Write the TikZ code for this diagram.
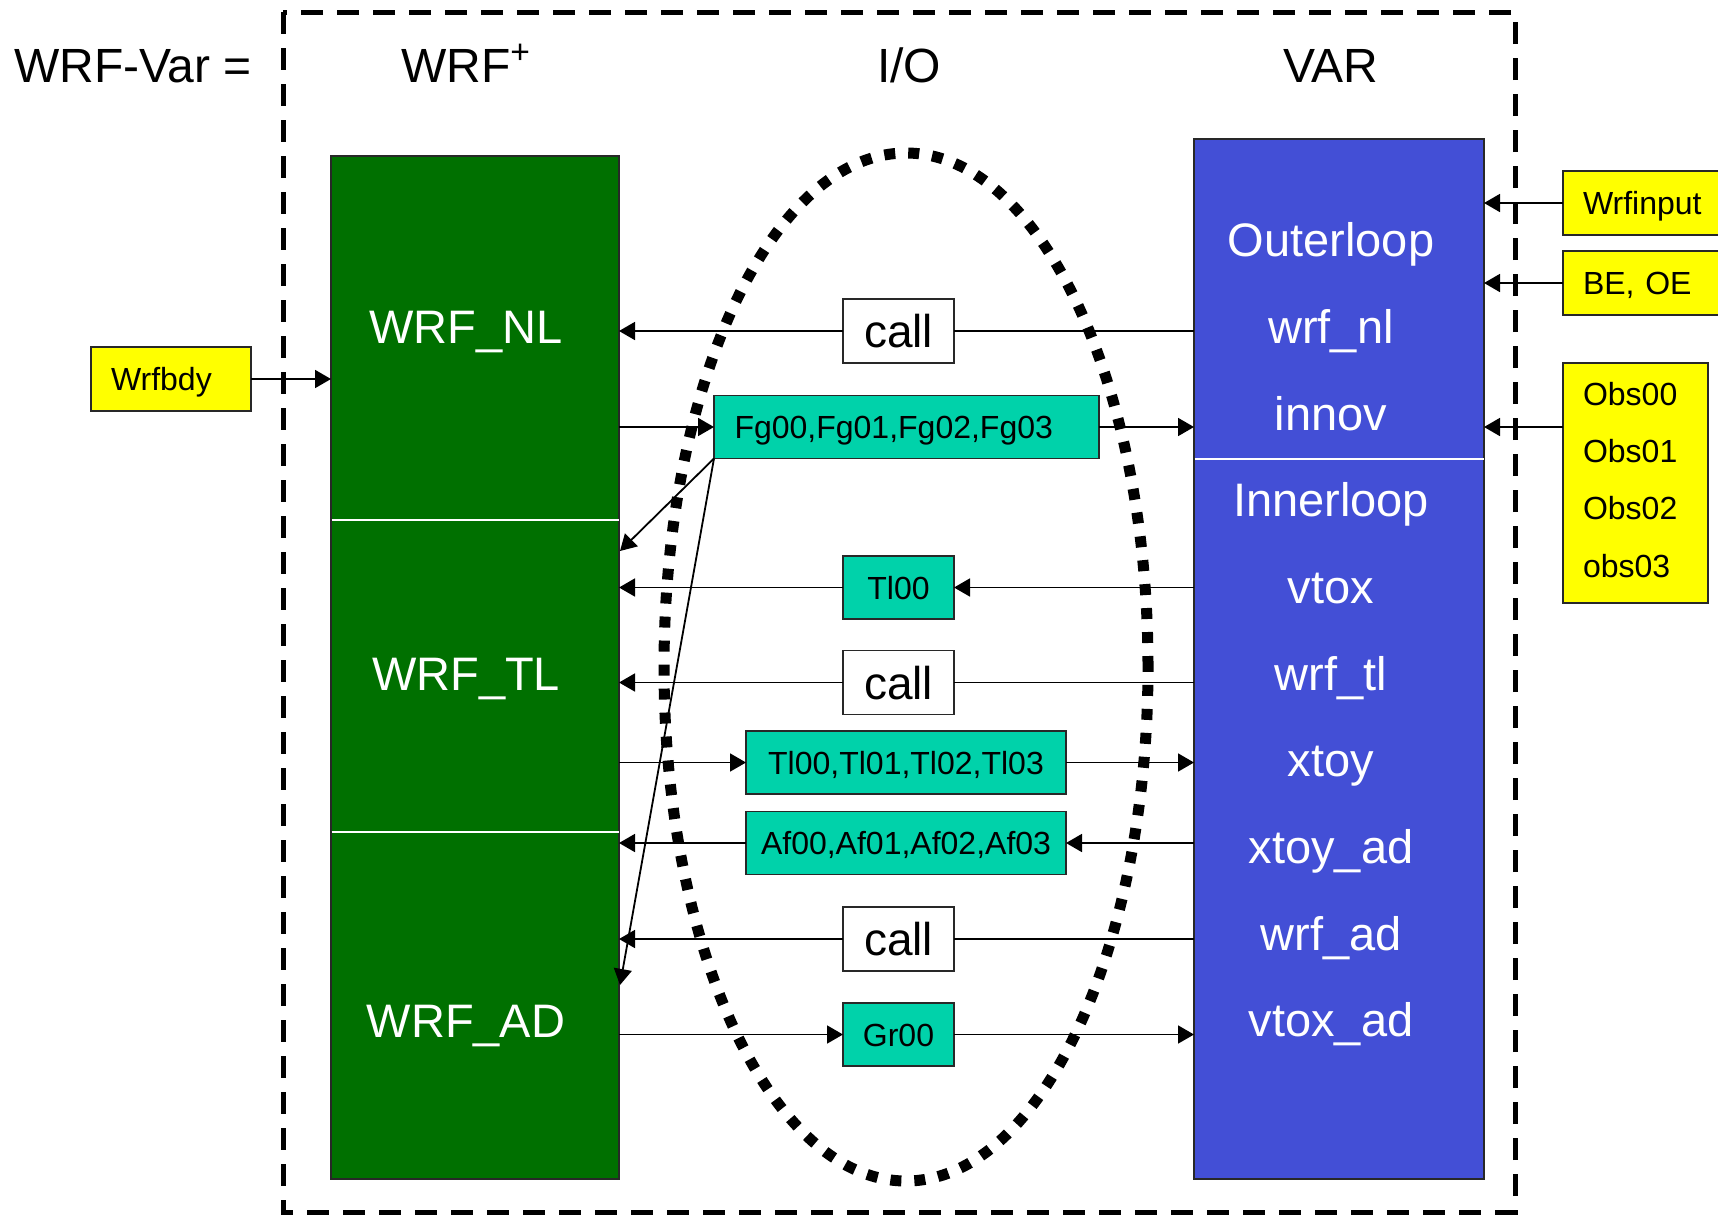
\documentclass[tikz,border=0pt]{standalone}
\usepackage{fontspec}
\setmainfont{Liberation Sans}
\usetikzlibrary{arrows.meta}
\definecolor{wgreen}{RGB}{0,112,0}
\definecolor{wblue}{RGB}{67,79,214}
\definecolor{wteal}{RGB}{0,210,170}
\definecolor{wyellow}{RGB}{255,255,0}
\definecolor{edgegray}{RGB}{40,40,40}
\begin{document}
\begin{tikzpicture}[x=0.5pt,y=-0.5pt,
  every node/.style={inner sep=0pt, outer sep=0pt},
  conn/.style={line width=0.9pt, -{Triangle[length=8pt,width=9pt]}},
  plainline/.style={line width=0.9pt},
  block/.style={draw=edgegray, line width=0.8pt},
  iobox/.style={draw=edgegray, line width=0.8pt, fill=wteal, minimum height=31.5pt,
    font=\fontsize{16}{18}\selectfont, text height=11.5pt, text depth=0pt},
  callbox/.style={draw=edgegray, line width=0.8pt, fill=white, minimum width=55.5pt,
    minimum height=32pt, font=\fontsize{23}{26}\selectfont, text height=16.5pt, text depth=0pt},
  ybox/.style={draw=edgegray, line width=0.8pt, fill=wyellow, inner xsep=10pt,
    minimum height=32pt, align=left, font=\fontsize{16}{18}\selectfont,
    text height=11.5pt, text depth=0pt},
  ytext/.style={font=\fontsize{16}{18}\selectfont, anchor=base west},
  lab/.style={text=white, font=\fontsize{23.5}{28}\selectfont, anchor=base},
  title/.style={font=\fontsize{24}{28}\selectfont, anchor=base},
  frame/.style={line width=2.5pt, dash pattern=on 11pt off 7pt},
  dots/.style={line width=5.5pt, dash pattern=on 5.5pt off 6.5pt}
]
\useasboundingbox (0,0) rectangle (1718,1216);
\clip (0,0) rectangle (1718,1216);
\fill[white] (0,0) rectangle (1718,1216);

% outer dashed frame
\draw[frame] (283,12) rectangle (1515,1212);

% titles
\node[title] (wrfvar) at (133,82) {WRF-Var =};
\node[title] (wrfplus) at (466,82) {WRF\textsuperscript{+}};
\node[title] (io) at (909,82) {I/O};
\node[title] (var) at (1331,82) {VAR};

% main blocks
\node[block, fill=wgreen, minimum width=144pt, minimum height=511.5pt] (green) at (475,667.5) {};
\draw[white, line width=0.8pt] (331.5,520) -- (618.5,520);
\draw[white, line width=0.8pt] (331.5,832) -- (618.5,832);
\node[block, fill=wblue, minimum width=145pt, minimum height=520pt] (blue) at (1339,659) {};
\draw[white, line width=0.8pt] (1194.5,459) -- (1483.5,459);

% green labels
\node[lab] (nl) at (466,343) {WRF\_NL};
\node[lab] (tlab) at (466,690) {WRF\_TL};
\node[lab] (adlab) at (466,1037) {WRF\_AD};

% blue labels
\node[lab] (outer) at (1331,256.6) {Outerloop};
\node[lab] (wrfnl) at (1331,343.3) {wrf\_nl};
\node[lab] (innov) at (1331,430) {innov};
\node[lab] (inner) at (1331,516.7) {Innerloop};
\node[lab] (vtox) at (1331,603.4) {vtox};
\node[lab] (wrftl) at (1331,690) {wrf\_tl};
\node[lab] (xtoy) at (1331,776.7) {xtoy};
\node[lab] (xtoyad) at (1331,863.4) {xtoy\_ad};
\node[lab] (wrfad) at (1331,950) {wrf\_ad};
\node[lab] (vtoxad) at (1331,1036.7) {vtox\_ad};

% dotted ellipse
\draw[dots] (906,667) ellipse [x radius=121pt, y radius=257pt];

% I/O boxes
\node[callbox] (call1) at (898.5,331) {call};
\node[iobox, minimum width=192.5pt, text width=172pt, inner xsep=10pt, align=left] (fg) at (906.5,427) {Fg00,Fg01,Fg02,Fg03};
\node[iobox, minimum width=55.5pt] (tl0) at (898.5,587.5) {Tl00};
\node[callbox] (call2) at (898.5,682.5) {call};
\node[iobox, minimum width=160pt] (tl) at (906,762.5) {Tl00,Tl01,Tl02,Tl03};
\node[iobox, minimum width=160pt] (af) at (906,843) {Af00,Af01,Af02,Af03};
\node[callbox] (call3) at (898.5,939) {call};
\node[iobox, minimum width=55.5pt] (gr) at (898.5,1034.5) {Gr00};

% yellow inputs
\node[ybox, text width=60pt, anchor=west] (wrfbdy) at (91,379) {Wrfbdy};
\node[ybox, text width=70pt, anchor=west] (wrfinput) at (1563,203) {Wrfinput};
\node[ybox, text width=70pt, anchor=west] (beoe) at (1563,283) {BE, OE};
\node[draw=edgegray, line width=0.8pt, fill=wyellow, minimum width=72.5pt, minimum height=120pt] (obs) at (1635.5,483) {};
\node[ytext] (obs0) at (1583,405) {Obs00};
\node[ytext] (obs1) at (1583,462.3) {Obs01};
\node[ytext] (obs2) at (1583,519.6) {Obs02};
\node[ytext] (obs3) at (1583,577) {obs03};

% connectors
\draw[plainline] (blue.west |- call1) -- (call1.east);
\draw[conn] (call1.west) -- (green.east |- call1);
\draw[conn] (green.east |- fg) -- (fg.west);
\draw[conn] (fg.east) -- (blue.west |- fg);
\coordinate (d1) at (620,551);
\coordinate (d2) at (620,985);
\draw[conn] (fg.south west) -- (d1);
\draw[conn] (fg.south west) -- (d2);
\draw[conn] (blue.west |- tl0) -- (tl0.east);
\draw[conn] (tl0.west) -- (green.east |- tl0);
\draw[plainline] (blue.west |- call2) -- (call2.east);
\draw[conn] (call2.west) -- (green.east |- call2);
\draw[conn] (green.east |- tl) -- (tl.west);
\draw[conn] (tl.east) -- (blue.west |- tl);
\draw[conn] (blue.west |- af) -- (af.east);
\draw[conn] (af.west) -- (green.east |- af);
\draw[plainline] (blue.west |- call3) -- (call3.east);
\draw[conn] (call3.west) -- (green.east |- call3);
\draw[conn] (green.east |- gr) -- (gr.west);
\draw[conn] (gr.east) -- (blue.west |- gr);
\draw[conn] (wrfbdy.east) -- (green.west |- wrfbdy);
\draw[conn] (wrfinput.west) -- (blue.east |- wrfinput);
\draw[conn] (beoe.west) -- (blue.east |- beoe);
\coordinate (obsout) at (1563,427);
\draw[conn] (obsout) -- (blue.east |- obsout);
\end{tikzpicture}
\end{document}
